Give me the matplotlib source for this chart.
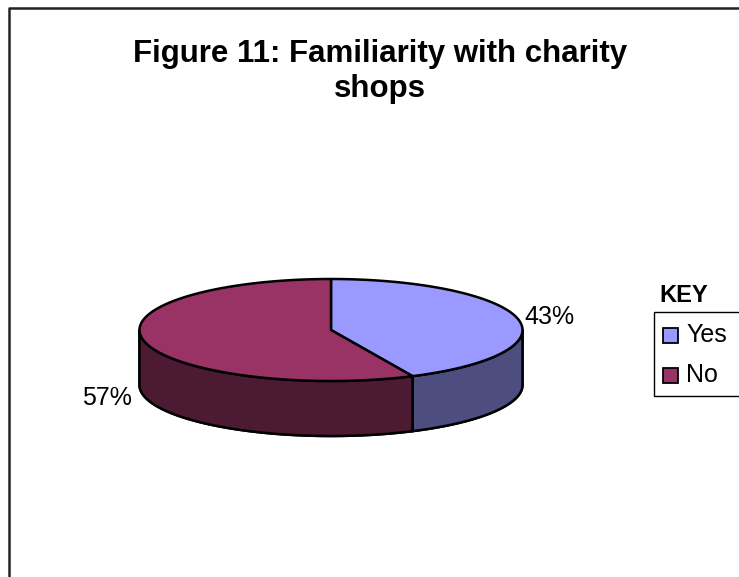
import matplotlib
matplotlib.use("Agg")
import matplotlib.pyplot as plt
from matplotlib.patches import Polygon, Rectangle
import numpy as np

plt.rcParams['font.family'] = ['Liberation Sans', 'DejaVu Sans']

# data
labels = ['Yes', 'No']
shares = [43, 57]
top_colors = ['#9999ff', '#993366']
side_colors = ['#4d4d80', '#4d1a33']
title_lines = ['Figure 11: Familiarity with charity', 'shops']
legend_title = 'KEY'

W, H = 739, 577
fig = plt.figure(figsize=(W / 100, H / 100), dpi=100)
ax = fig.add_axes([0, 0, 1, 1])
ax.set_xlim(0, W)
ax.set_ylim(H, 0)
ax.axis('off')

# chart frame (runs off the right and bottom)
ax.plot([9, 9, W + 5], [H + 5, 8, 8], color='#222222', lw=1.8, solid_capstyle='butt')

# pie geometry in pixels
cx, cy = 331, 330
ra, rb = 191.5, 51
depth = 55


def arc(t1, t2, dy=0):
    t = np.radians(np.linspace(t1, t2, 200))
    return np.column_stack([cx + ra * np.cos(t), cy - rb * np.sin(t) + dy])


# slice angles: start at 12 o'clock, go clockwise
total = float(sum(shares))
bounds = []
start = 90.0
for s in shares:
    end = start - 360.0 * s / total
    bounds.append((end, start))
    start = end

# side walls, only the front half (180..360 deg) is visible
for (t1, t2), col in zip(bounds, side_colors):
    for lo, hi in [(-180, 0), (180, 360)]:
        for off in (0, 360, -360):
            a1, a2 = max(t1 + off, lo), min(t2 + off, hi)
            if a2 > a1:
                top = arc(a1, a2)
                bot = arc(a1, a2, depth)[::-1]
                ax.add_patch(Polygon(np.vstack([top, bot]), closed=True,
                                     facecolor=col, edgecolor='black', lw=1.8,
                                     joinstyle='round'))

# top faces
for (t1, t2), col in zip(bounds, top_colors):
    pts = np.vstack([[cx, cy], arc(t1, t2)])
    ax.add_patch(Polygon(pts, closed=True, facecolor=col, edgecolor='black',
                         lw=1.8, joinstyle='round'))

# percentage labels
k = 1.17
for (t1, t2), s in zip(bounds, shares):
    mid = np.radians((t1 + t2) / 2)
    lx = cx + k * ra * np.cos(mid)
    ly = cy - k * rb * np.sin(mid)
    if np.sin(mid) < 0:
        ly += depth
        lx -= 5
    ax.text(lx, ly, f'{s}%', fontsize=18, ha='center', va='center')

# title
ax.text(380, 62, title_lines[0], fontsize=22.5, fontweight='bold',
        ha='center', va='baseline')
ax.text(380, 97, title_lines[1], fontsize=22.5, fontweight='bold',
        ha='center', va='baseline')

# legend
ax.text(659, 302, legend_title, fontsize=17, fontweight='bold',
        ha='left', va='baseline')
ax.add_patch(Rectangle((654, 312), 100, 84, facecolor='white',
                       edgecolor='black', lw=1.0))
for i, (lab, col) in enumerate(zip(labels, top_colors)):
    yy = 336 + i * 40
    ax.add_patch(Rectangle((663, yy - 8), 15, 15, facecolor=col,
                           edgecolor='black', lw=1.3))
    ax.text(686, yy + 6, lab, fontsize=18, ha='left', va='baseline')

fig.savefig('out.png', dpi=100)
